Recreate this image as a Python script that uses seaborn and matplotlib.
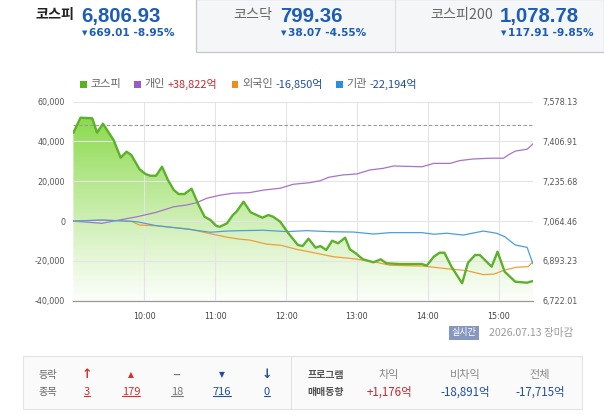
import numpy as np
import pandas as pd
import matplotlib
matplotlib.use('Agg')
import matplotlib.pyplot as plt
from matplotlib.patches import Rectangle
from matplotlib.lines import Line2D
from matplotlib.colors import to_rgb
import seaborn as sns

sns.set_style('white')
plt.rcParams['font.family'] = ['DejaVu Sans', 'Noto Sans CJK KR']
KR = ['Noto Sans CJK KR', 'DejaVu Sans']

# KOSPI index, minutes after 09:00
kospi_min = [0, 6, 16, 20, 25, 34, 40, 45, 49, 56, 61, 65, 70, 75, 80, 85, 89, 94, 100, 106,
             111, 116, 121, 124, 130, 135, 138, 144, 150, 155, 160, 165, 169, 175, 182, 190,
             194, 199, 205, 209, 214, 219, 224, 230, 234, 239, 245, 254, 260, 265, 276, 295,
             299, 305, 310, 314, 320, 329, 334, 340, 344, 354, 359, 365, 374, 384, 389]
kospi_val = [7444.7, 7509.3, 7506.7, 7444.7, 7483.5, 7413.3, 7337.2, 7363.0, 7348.8, 7287.3,
             7267.1, 7259.8, 7259.8, 7298.5, 7241.3, 7198.2, 7181.0, 7181.0, 7203.8, 7133.7,
             7083.4, 7069.2, 7043.4, 7040.3, 7055.0, 7090.7, 7104.9, 7147.9, 7102.3, 7090.7,
             7079.1, 7090.7, 7083.4, 7061.9, 7012.0, 6961.6, 6957.3, 6988.7, 6950.0, 6957.3,
             6940.1, 6980.1, 6968.9, 6993.0, 6943.1, 6925.9, 6900.1, 6887.2, 6900.1, 6882.9,
             6879.9, 6879.9, 6872.6, 6911.3, 6928.5, 6928.5, 6868.3, 6796.9, 6885.5, 6918.6,
             6918.6, 6868.3, 6932.8, 6846.8, 6803.7, 6799.4, 6806.93]
prev_close = 7475.94

# net buying by investor (억원)
ind_min = [0, 24, 39, 54, 70, 85, 96, 104, 113, 124, 135, 149, 161, 175, 186, 200, 209, 216,
           228, 240, 251, 262, 271, 295, 305, 319, 327, 338, 353, 364, 368, 374, 384, 389]
ind_val = [0, -1100, 550, 2200, 4400, 7200, 8100, 9200, 11500, 13000, 14000, 14300, 15600,
           16500, 18500, 19300, 20300, 22000, 23200, 23700, 25700, 26500, 27700, 27300, 29000,
           29000, 30400, 31200, 31600, 31600, 33200, 35200, 36100, 38822]
for_min = [0, 24, 49, 56, 70, 98, 118, 130, 141, 149, 163, 176, 189, 206, 220, 237, 254, 268,
           296, 319, 333, 347, 356, 365, 375, 385, 389]
for_val = [0, 500, 0, -2000, -2300, -4000, -6600, -8100, -9100, -9500, -11500, -12200, -14200,
           -16200, -17900, -18900, -20400, -22200, -22600, -24100, -24900, -26900, -26600,
           -24600, -23200, -22900, -20400]
inst_min = [0, 24, 54, 70, 96, 116, 130, 141, 161, 181, 197, 217, 237, 254, 268, 295, 305, 316,
            330, 347, 358, 365, 374, 384, 389]
inst_val = [0, 550, -300, -2300, -4000, -5600, -5000, -4800, -4600, -5300, -4800, -5300, -5500,
            -6500, -5800, -5800, -6600, -6100, -7000, -5000, -6100, -7800, -12000, -13200, -21500]

hour_ticks = [60, 120, 180, 240, 300, 360]
hour_labels = ['10:00', '11:00', '12:00', '13:00', '14:00', '15:00']
flow_ticks = [-40000, -20000, 0, 20000, 40000, 60000]
price_ticks = [6722.01, 6893.23, 7064.46, 7235.68, 7406.91, 7578.13]

W, H = 604, 416
def fx(x):
    return x / W
def fy(y):
    return 1 - y / H

fig = plt.figure(figsize=(6.04, 4.16), dpi=100)
r = fig.canvas.get_renderer()

# ---- top tabs ----
fig.add_artist(Rectangle((fx(196), fy(52)), (W - 196) / W, 53 / H, transform=fig.transFigure,
                         facecolor='#f5f6f8', edgecolor='#c4c6cc', lw=0.9))
fig.add_artist(Line2D([fx(395), fx(395)], [fy(52), 1], transform=fig.transFigure,
                      color='#dcdde1', lw=0.8))

tabs = [(74, 81, '코스피', '#222222', 'bold', '6,806.93', '669.01 -8.95%'),
        (272, 280, '코스닥', '#666666', 'normal', '799.36', '38.07 -4.55%'),
        (493, 500, '코스피200', '#666666', 'normal', '1,078.78', '117.91 -9.85%')]
for name_r, num_l, name, ncol, nw, big, chg in tabs:
    fig.text(fx(name_r), fy(15.5), name, ha='right', va='center', fontsize=10.2,
             color=ncol, fontweight=nw, family=KR)
    fig.text(fx(num_l), fy(16.5), big, ha='left', va='center', fontsize=14.7,
             color='#1c5db5', fontweight='bold', family='Liberation Sans')
    fig.text(fx(num_l + 1), fy(33.5), '▼', ha='left', va='center', fontsize=5,
             color='#1c5db5')
    fig.text(fx(num_l + 8), fy(33.5), chg, ha='left', va='center', fontsize=7.6,
             color='#1c5db5', fontweight='bold')

# ---- legend row ----
legend_items = [(83, '#55b521', '코스피', None, None),
                (137, '#9b5bc6', '개인', '+38,822억', '#c8282d'),
                (235, '#f08c1e', '외국인', '-16,850억', '#1f4e9c'),
                (339, '#2a8fdd', '기관', '-22,194억', '#1f4e9c')]
for lx, col, lab, val, vcol in legend_items:
    fig.add_artist(Rectangle((fx(lx - 3), fy(87.5)), 6.5 / W, 6.5 / H, transform=fig.transFigure,
                             facecolor=col, edgecolor='none'))
    t = fig.text(fx(lx + 7), fy(84), lab, ha='left', va='center', fontsize=8.0,
                 color='#666666', family=KR)
    if val:
        bb = t.get_window_extent(r)
        fig.text((bb.x1 + 3) / W, fy(84), val, ha='left', va='center',
                 fontsize=7.9, color=vcol, family=KR)

# ---- chart ----
ax_p = fig.add_axes([fx(73.4), fy(300.7), (533 - 73.4) / W, (300.7 - 101.7) / H])
ax_f = ax_p.twinx()
ax_g = ax_p.twinx()

df_k = pd.DataFrame({'t': kospi_min, 'v': kospi_val})
p_lo, p_hi = price_ticks[0], price_ticks[-1]
x_end = kospi_min[-1]

# gradient fill under the index line
poly = ax_p.fill_between(df_k['t'], df_k['v'], p_lo, facecolor='none', edgecolor='none')
top_c = np.array(to_rgb('#80d63c'))
bot_c = np.array(to_rgb('#fcfefa'))
s = np.linspace(0, 1, 256) ** 1.1
grad = (bot_c[None, :] * (1 - s[:, None]) + top_c[None, :] * s[:, None])[:, None, :]
im = ax_p.imshow(grad, extent=[0, x_end, p_lo, p_hi], origin='lower', aspect='auto',
                 zorder=0)
im.set_clip_path(poly.get_paths()[0], transform=ax_p.transData)
ax_p.axhline(prev_close, color='#9a9a9a', lw=0.8, ls=(0, (3, 2)), zorder=3)

ax_p.set_xlim(0, x_end)
ax_p.set_ylim(p_lo, p_hi)
ax_p.set_yticks(price_ticks)
ax_p.set_yticklabels([f'{v:,.2f}' for v in price_ticks])
ax_p.yaxis.tick_right()
ax_p.set_xticks(hour_ticks)
ax_p.set_xticklabels(hour_labels)
ax_p.set_axisbelow(False)
ax_p.grid(True, color='#e4e4e4', lw=0.8)
ax_p.tick_params(axis='y', length=0, pad=6.5, labelsize=5.8, labelcolor='#555555')
ax_p.tick_params(axis='x', length=3, direction='in', color='#aaaaaa', pad=8,
                 labelsize=5.8, labelcolor='#444444')
for sp in ['top', 'left', 'right']:
    ax_p.spines[sp].set_visible(False)
ax_p.spines['bottom'].set_color('#9a9a9a')
ax_p.spines['bottom'].set_linewidth(0.9)

# investor flows
sns.lineplot(x=ind_min, y=ind_val, ax=ax_f, color='#a872cc', lw=0.9)
sns.lineplot(x=for_min, y=for_val, ax=ax_f, color='#ef9d3d', lw=0.9)
sns.lineplot(x=inst_min, y=inst_val, ax=ax_f, color='#4b9fd8', lw=0.9)
ax_f.set_ylim(-40000, 60000)
ax_f.set_yticks(flow_ticks)
ax_f.set_yticklabels([f'{v:,}' for v in flow_ticks])
ax_f.yaxis.tick_left()
ax_f.tick_params(axis='y', length=0, pad=6, labelsize=5.8, labelcolor='#555555')
for sp in ax_f.spines.values():
    sp.set_visible(False)

# index line on top
sns.lineplot(data=df_k, x='t', y='v', ax=ax_g, color='#5cb02a', lw=1.7)
ax_g.set_ylim(p_lo, p_hi)
ax_g.set_xlim(0, x_end)
ax_g.axis('off')

# ---- status line ----
fig.text(fx(464), fy(333), '실시간', ha='center', va='center', fontsize=6.5, color='white',
         family=KR, bbox=dict(boxstyle='square,pad=0.25', facecolor='#8797bf', edgecolor='none'))
fig.text(fx(489), fy(333), '2026.07.13 장마감', ha='left', va='center', fontsize=7.6,
         color='#9a9a9a', family=KR)

# ---- bottom box ----
fig.add_artist(Rectangle((fx(23), fy(409)), (582 - 23) / W, (409 - 356) / H,
                         transform=fig.transFigure, facecolor='#fafafa', edgecolor='#e3e3e3',
                         lw=0.8))
fig.add_artist(Line2D([fx(291), fx(291)], [fy(409), fy(356)], transform=fig.transFigure,
                      color='#e3e3e3', lw=0.8))

fig.text(fx(48), fy(375), '등락', ha='center', va='center', fontsize=7.3, color='#666666', family=KR)
fig.text(fx(48), fy(392), '종목', ha='center', va='center', fontsize=7.3, color='#666666', family=KR)

adv_x = [87, 131, 177, 222, 267]
adv_sym = ['↑', '▲', '−', '▼', '↓']
adv_cnt = ['3', '179', '18', '716', '0']
adv_col = ['#d0312d', '#d0312d', '#777777', '#1f4e9c', '#1f4e9c']
adv_size = [9, 5.5, 7, 5.5, 9]
num_texts = []
for x, sym, cnt, col, sz in zip(adv_x, adv_sym, adv_cnt, adv_col, adv_size):
    fig.text(fx(x), fy(375), sym, ha='center', va='center', fontsize=sz, color=col,
             fontweight='bold')
    num_texts.append(fig.text(fx(x), fy(392), cnt, ha='center', va='center', fontsize=8,
                              color=col, family=KR))

fig.text(fx(326), fy(375), '프로그램', ha='center', va='center', fontsize=7.2, color='#555555',
         fontweight='bold', family=KR)
fig.text(fx(326), fy(392), '매매동향', ha='center', va='center', fontsize=7.2, color='#555555',
         fontweight='bold', family=KR)
prog_x = [389, 465, 540]
prog_lab = ['차익', '비차익', '전체']
prog_val = ['+1,176억', '-18,891억', '-17,715억']
prog_col = ['#c8282d', '#1f4e9c', '#1f4e9c']
for x, lab, val, col in zip(prog_x, prog_lab, prog_val, prog_col):
    fig.text(fx(x), fy(375), lab, ha='center', va='center', fontsize=8, color='#888888', family=KR)
    fig.text(fx(x), fy(392), val, ha='center', va='center', fontsize=8.3, color=col, family=KR)

# underline the advance/decline counts
fig.canvas.draw()
for t in num_texts:
    bb = t.get_window_extent(r)
    fig.add_artist(Line2D([bb.x0 / W, bb.x1 / W], [(bb.y0 + 1) / H] * 2,
                          transform=fig.transFigure, color=t.get_color(), lw=0.8))

fig.savefig('out.png', dpi=100)
